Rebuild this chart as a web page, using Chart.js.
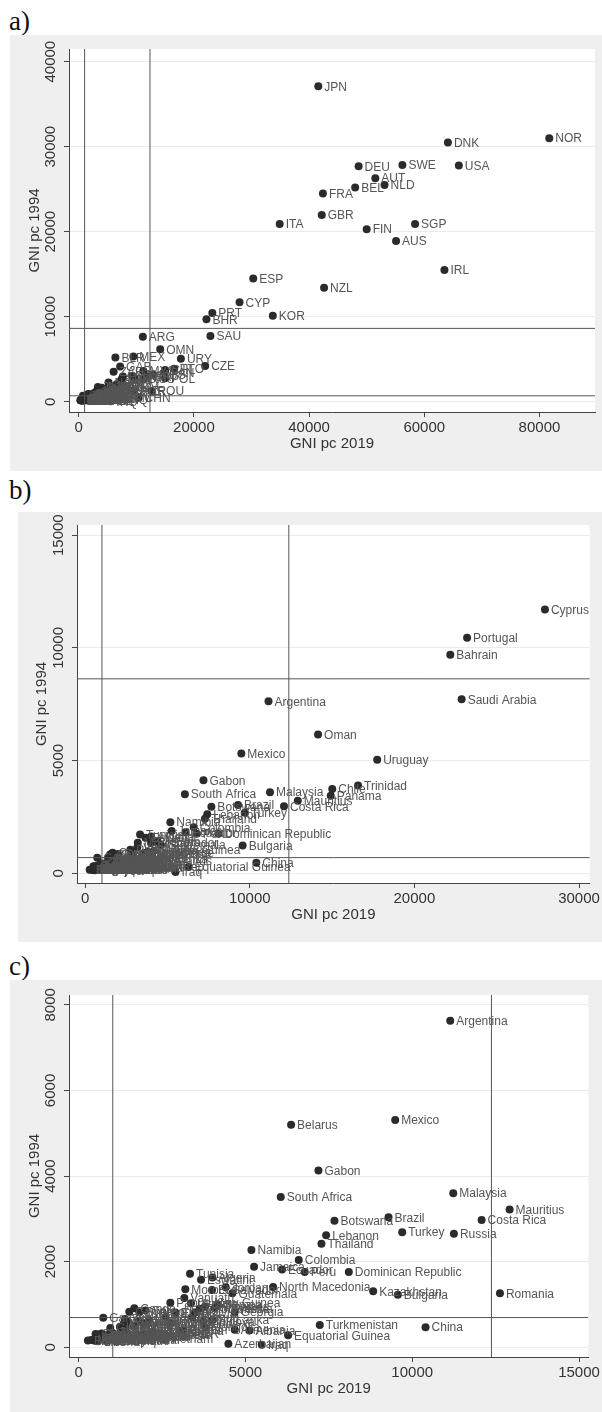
<!DOCTYPE html>
<html><head><meta charset="utf-8">
<script src="https://cdn.jsdelivr.net/npm/chart.js@4.4.1/dist/chart.umd.min.js"></script>
<style>
html,body{margin:0;padding:0;background:#fff;}
body{width:602px;height:1412px;position:relative;overflow:hidden;}
.lbl{position:absolute;font-family:"Liberation Serif","Times New Roman",serif;font-size:27px;line-height:27px;color:#111;}
canvas{position:absolute;}
</style></head><body>
<div class="lbl" style="left:9px;top:8px">a)</div>
<div class="lbl" style="left:9px;top:477px">b)</div>
<div class="lbl" style="left:9px;top:953px">c)</div>
<canvas id="ca" width="592" height="436" style="left:10px;top:35px;width:592px;height:436px"></canvas>
<canvas id="cb" width="584" height="430" style="left:18px;top:512px;width:584px;height:430px"></canvas>
<canvas id="cc" width="592" height="432" style="left:10px;top:980px;width:592px;height:432px"></canvas>
<script>
// ---------- DATA (GNI per capita, US$) ----------
// High-income group shown only in panel a
const hiCodes = ["JPN","NOR","DNK","DEU","SWE","USA","AUT","BEL","NLD","FRA","GBR","ITA","FIN","SGP","AUS","IRL","ESP","NZL","KOR","CZE","POL"];
const hiGni2019 = [41600,81700,64100,48600,56200,66000,51500,48000,53100,42400,42200,34900,50000,58400,55100,63500,30300,42600,33700,21950,15000];
const hiGni1994 = [37100,31000,30500,27700,27850,27800,26300,25200,25500,24500,21950,20900,20300,20900,18900,15500,14500,13400,10100,4200,2750];

// Upper-middle group shown in panels a and b
const midCodes = ["CYP","PRT","BHR","SAU","OMN","URY","CHL","TTO","PAN"];
const midNames = ["Cyprus","Portugal","Bahrain","Saudi Arabia","Oman","Uruguay","Chile","Trinidad","Panama"];
const midGni2019 = [27930,23200,22180,22870,14150,17740,15010,16580,14920];
const midGni1994 = [11700,10450,9690,7720,6160,5040,3740,3890,3440];

// Transition economies shown in panels a and c
const trCodes = ["BLR","RUS","MKD","KAZ","ROU","TKM","AZE","ARM","ALB","GEO","MNG","UKR","UZB","KGZ","TJK","MDA"];
const trNames = ["Belarus","Russia","North Macedonia","Kazakhstan","Romania","Turkmenistan","Azerbaijan","Armenia","Albania","Georgia","Mongolia","Ukraine","Uzbekistan","Kyrgyz Republic","Tajikistan","Moldova"];
const trGni2019 = [6370,11250,5830,8830,12630,7230,4490,4680,5120,4680,3790,3370,1800,1240,1030,3740];
const trGni1994 = [5200,2650,1410,1310,1260,520,80,410,390,820,470,1030,600,480,330,600];

// Developing economies shown in panels a, b and c
const devCodes = ["ARG","MEX","GAB","ZAF","MYS","MUS","CRI","BWA","BRA","TUR","LBN","THA","NAM","COL","JAM","ECU","PER","DOM","TUN","DZA","SWZ","MAR","JOR","SLV","GTM","BGR","PNG","CHN","GNQ","IRQ","LKA","IDN","PHL","BOL","EGY","HND","CIV","CMR","COG","ZWE","SEN","NIC","GHA","IND","NGA","PAK","BGD","KEN","VNM","LAO","KHM","ZMB","AGO","MRT","HTI","BEN","LSO","ETH","MDG","MWI","MOZ","NER","BDI","UGA","RWA","TGO","MLI","BFA","TCD","CAF","SLE","GIN","GMB","NPL","TZA","GNB","COM","YEM","SDN","LBR","AFG","MMR","STP","SLB","KIR","BTN","DJI","CPV","VUT","TLS","WSM","SYR","ERI"];
const devNames = ["Argentina","Mexico","Gabon","South Africa","Malaysia","Mauritius","Costa Rica","Botswana","Brazil","Turkey","Lebanon","Thailand","Namibia","Colombia","Jamaica","Ecuador","Peru","Dominican Republic","Tunisia","Algeria","Eswatini","Morocco","Jordan","El Salvador","Guatemala","Bulgaria","Papua New Guinea","China","Equatorial Guinea","Iraq","Sri Lanka","Indonesia","Philippines","Bolivia","Egypt","Honduras","Cote d'Ivoire","Cameroon","Congo","Zimbabwe","Senegal","Nicaragua","Ghana","India","Nigeria","Pakistan","Bangladesh","Kenya","Vietnam","Lao PDR","Cambodia","Zambia","Angola","Mauritania","Haiti","Benin","Lesotho","Ethiopia","Madagascar","Malawi","Mozambique","Niger","Burundi","Uganda","Rwanda","Togo","Mali","Burkina Faso","Chad","Central African Rep.","Sierra Leone","Guinea","Gambia","Nepal","Tanzania","Guinea-Bissau","Comoros","Yemen","Sudan","Liberia","Afghanistan","Myanmar","Sao Tome","Solomon Islands","Kiribati","Bhutan","Djibouti","Cabo Verde","Vanuatu","Timor-Leste","Samoa","Syria","Eritrea"];
const devGni2019 = [11140,9490,7190,6060,11230,12920,12080,7670,9290,9700,7420,7280,5180,6600,5260,6100,6780,8100,3340,4010,3670,3200,4410,4000,4610,9570,2750,10400,6280,5490,4010,4080,3790,3490,2900,2600,2000,1520,1670,1390,1450,2110,2220,2120,2030,1410,1940,1750,2540,2570,1480,1450,3050,1660,1330,1250,1360,850,520,380,490,560,280,780,820,690,880,790,700,510,500,950,740,1090,1080,820,1400,940,590,580,540,1390,1960,1950,2780,3140,3410,3630,3170,1890,4180,1820,600];
const devGni1994 = [7630,5310,4130,3510,3600,3220,2975,2955,3035,2690,2615,2420,2270,2040,1880,1820,1760,1760,1720,1630,1580,1355,1400,1340,1260,1230,1040,470,280,60,640,910,950,810,810,710,860,830,910,660,600,640,360,340,260,470,290,270,190,320,240,340,380,480,250,350,560,150,230,170,150,220,160,190,210,320,280,270,220,310,180,450,690,190,170,250,500,320,300,140,210,180,330,560,560,400,700,900,1150,300,1000,820,200];

// Axes ticks and threshold lines (World Bank income thresholds)
const aXTicks = [0,20000,40000,60000,80000];
const aYTicks = [0,10000,20000,30000,40000];
const bXTicks = [0,10000,20000,30000];
const bYTicks = [0,5000,10000,15000];
const cXTicks = [0,5000,10000,15000];
const cYTicks = [0,2000,4000,6000,8000];
const thresholds2019 = [1025,12375];
const thresholds1994 = [695,8626];

// ---------- BUILD ----------
const FONT = '"Liberation Sans", Arial, Helvetica, sans-serif';
function pts(xs, ys){ return xs.map((x,i)=>({x:x, y:ys[i]})); }

const panelA = {
  labels: [].concat(hiCodes, midCodes, trCodes, devCodes),
  data: [].concat(pts(hiGni2019,hiGni1994), pts(midGni2019,midGni1994), pts(trGni2019,trGni1994), pts(devGni2019,devGni1994))
};
const panelB = {
  labels: [].concat(midNames, devNames),
  data: [].concat(pts(midGni2019,midGni1994), pts(devGni2019,devGni1994))
};
const panelC = {
  labels: [].concat(trNames, devNames),
  data: [].concat(pts(trGni2019,trGni1994), pts(devGni2019,devGni1994))
};

const bgPlugin = {
  id:'bg',
  beforeDraw(chart){
    const {ctx, chartArea:a, width, height} = chart;
    ctx.save();
    ctx.fillStyle = '#efefef'; ctx.fillRect(0,0,width,height);
    ctx.fillStyle = '#ffffff'; ctx.fillRect(a.left, a.top, a.right-a.left, a.bottom-a.top);
    ctx.restore();
  }
};
const labelPlugin = {
  id:'ptLabels',
  afterDatasetsDraw(chart){
    const meta = chart.getDatasetMeta(0);
    const labels = chart.data.datasets[0].ptLabels;
    const ctx = chart.ctx;
    ctx.save();
    ctx.font = '12px ' + FONT;
    ctx.fillStyle = '#555555';
    ctx.textBaseline = 'middle';
    ctx.textAlign = 'left';
    meta.data.forEach((el,i)=>{ ctx.fillText(labels[i], el.x + 6, el.y + 1); });
    ctx.restore();
  }
};

function build(id, panel, xr, yr, xTicks, yTicks, L){
  const datasets = [{
    type:'scatter', order:1, data: panel.data, ptLabels: panel.labels,
    pointRadius:4, pointHoverRadius:4, pointBackgroundColor:'#2b2b2b', pointBorderWidth:0, showLine:false
  }];
  thresholds2019.forEach(t=>{
    if (t>xr[0] && t<xr[1]) datasets.push({type:'line', order:0, data:[{x:t,y:yr[0]},{x:t,y:yr[1]}], borderColor:'#555', borderWidth:1, pointRadius:0, fill:false});
  });
  thresholds1994.forEach(t=>{
    if (t>yr[0] && t<yr[1]) datasets.push({type:'line', order:0, data:[{x:xr[0],y:t},{x:xr[1],y:t}], borderColor:'#555', borderWidth:1, pointRadius:0, fill:false});
  });
  new Chart(document.getElementById(id), {
    type:'scatter',
    data:{datasets},
    plugins:[bgPlugin, labelPlugin],
    options:{
      responsive:false, animation:false, devicePixelRatio:1,
      layout:{padding:{top:L.padTop, right:L.padRight, bottom:0, left:0}},
      plugins:{legend:{display:false}, tooltip:{enabled:false}},
      scales:{
        x:{
          type:'linear', position:'bottom', min:xr[0], max:xr[1],
          afterBuildTicks: s => { s.ticks = xTicks.map(v=>({value:v})); },
          afterFit: s => { s.height = L.xHeight; },
          grid:{drawOnChartArea:false, drawTicks:true, tickLength:5, tickColor:'#444', color:'#444'},
          border:{display:true, color:'#444', width:1},
          ticks:{color:'#333', font:{family:FONT, size:15}, padding:2, minRotation:0, maxRotation:0, autoSkip:false, callback: v => String(v)},
          title:{display:true, text:'GNI pc 2019', color:'#333', font:{family:FONT, size:15}, padding:{top:0, bottom:L.xTitlePad}}
        },
        y:{
          type:'linear', position:'left', min:yr[0], max:yr[1],
          afterBuildTicks: s => { s.ticks = yTicks.map(v=>({value:v})); },
          afterFit: s => { s.width = L.yWidth; },
          grid:{drawOnChartArea:true, color:'#ebebeb', lineWidth:1, drawTicks:true, tickLength:5, tickColor:'#444'},
          border:{display:true, color:'#444', width:1},
          ticks:{color:'#333', font:{family:FONT, size:15}, padding:L.yTickPad, minRotation:90, maxRotation:90, crossAlign:'center', autoSkip:false, callback: v => String(v)},
          title:{display:true, text:'GNI pc 1994', color:'#333', font:{family:FONT, size:15}, padding:{top:L.yTitlePad, bottom:0}}
        }
      }
    }
  });
}

build('ca', panelA, [-1684, 89640], [-1210, 41490], aXTicks, aYTicks,
  {padTop:14, padRight:7, xHeight:59, yWidth:59, yTickPad:-8, xTitlePad:18, yTitlePad:16});
build('cb', panelB, [-491, 30650], [-430, 15450], bXTicks, bYTicks,
  {padTop:13, padRight:5, xHeight:59, yWidth:59, yTickPad:-8, xTitlePad:18, yTitlePad:15});
build('cc', panelC, [-287, 15280], [-227, 8230], cXTicks, cYTicks,
  {padTop:15, padRight:7, xHeight:55, yWidth:59, yTickPad:-4, xTitlePad:14, yTitlePad:16});
</script>
</body></html>
